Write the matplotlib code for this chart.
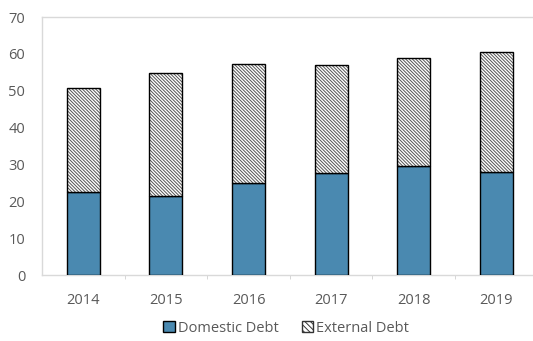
import matplotlib.pyplot as plt
import numpy as np

years = ["2014", "2015", "2016", "2017", "2018", "2019"]
domestic = [22.4, 21.4, 24.9, 27.6, 29.7, 27.9]
external = [28.4, 33.3, 32.3, 29.4, 29.1, 32.5]

plt.rcParams['font.family'] = ['Open Sans', 'DejaVu Sans']
plt.rcParams['hatch.linewidth'] = 0.7

fig = plt.figure(figsize=(5.33, 3.41), dpi=100)
ax = fig.add_axes([0.0788, 0.1935, 0.93, 0.7566])

x = np.arange(len(years))
w = 0.4
blue = "#4a89b0"
hatch = "\\" * 10

ax.bar(x, domestic, w, color=blue, edgecolor="black", linewidth=1.0,
       label="Domestic Debt", zorder=3)
# hatch drawn in grey, outline in black on top
ax.bar(x, external, w, bottom=domestic, color="white", edgecolor="#555555",
       hatch=hatch, linewidth=0, zorder=3)
ax.bar(x, external, w, bottom=domestic, fill=False, edgecolor="black",
       linewidth=1.0, zorder=4)
ext_handle = plt.Rectangle((0, 0), 1, 1, facecolor="white", edgecolor="#333333",
                           hatch="\\" * 6, linewidth=1.0)
dom_handle = plt.Rectangle((0, 0), 1, 1, facecolor=blue, edgecolor="black",
                           linewidth=1.0)

ax.set_xlim(-0.5, 5.5)
ax.set_ylim(0, 70)
ax.set_yticks(range(0, 71, 10))
ax.set_xticks(x)
ax.set_xticklabels(years)
ax.set_xticks(np.arange(0.5, 5.5, 1), minor=True)
ax.tick_params(axis="x", which="major", length=0, pad=13, labelsize=10.5,
               labelcolor="#595959")
ax.tick_params(axis="x", which="minor", length=3, color="#d0d0d0",
               direction="out")
ax.tick_params(axis="y", length=0, pad=12, labelsize=10.5, labelcolor="#595959")

for s in ["left", "top", "bottom"]:
    ax.spines[s].set_color("#d9d9d9")
    ax.spines[s].set_linewidth(1.0)
ax.spines["right"].set_visible(False)

fig.legend([dom_handle, ext_handle], ["Domestic Debt", "External Debt"],
           loc="center", bbox_to_anchor=(0.537, 0.038), ncol=2, frameon=False,
           fontsize=10.5, handlelength=0.8, handleheight=0.8, handletextpad=0.2,
           columnspacing=1.6, labelcolor="#595959")

fig.savefig("out.png", dpi=100)
